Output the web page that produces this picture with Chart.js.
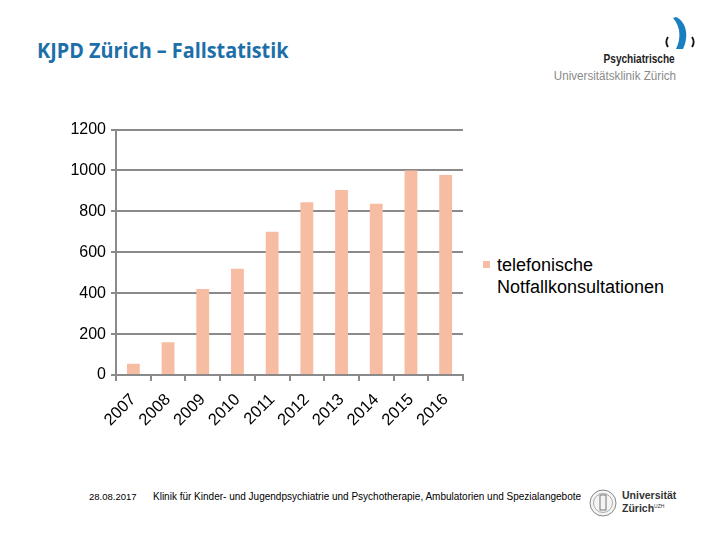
<!DOCTYPE html>
<html>
<head>
<meta charset="utf-8">
<script src="https://cdn.jsdelivr.net/npm/chart.js@4/dist/chart.umd.min.js"></script>
<style>
  html, body { margin:0; padding:0; background:#fff; }
  body { width:720px; height:540px; position:relative; overflow:hidden; font-family:"Liberation Sans", Arial, sans-serif; }
  .abs { position:absolute; white-space:nowrap; }
  #title { left:37px; top:34px; font-family:"Open Sans",sans-serif; font-weight:bold; font-size:22px; color:#1d6fa9; transform:scaleX(0.9); transform-origin:left top; }
  #psy { right:45px; top:52px; font-family:"Liberation Sans",sans-serif; font-weight:bold; font-size:12px; color:#222; transform:scaleX(0.84); transform-origin:right top; }
  #usz { right:44px; top:69px; font-family:"Liberation Sans",sans-serif; font-size:12px; color:#8a8a8a; transform:scaleX(0.97); transform-origin:right top; }
  #chartWrap { left:40px; top:115px; width:430px; height:335px; }
  #legSq { left:483px; top:261px; width:7px; height:7px; background:#f7bda3; }
  #legTxt { left:497px; top:254px; font-size:18px; line-height:22px; color:#000; }
  #date { left:89px; top:491px; font-size:9.5px; color:#000; }
  #foot { left:153px; top:491px; font-size:10px; color:#000; }
  #uzh1 { left:622px; top:489px; font-size:10.5px; font-weight:bold; color:#333; }
  #uzh2 { left:622px; top:502px; font-size:10.5px; font-weight:bold; color:#333; }
  #uzh2 sup { font-size:5px; font-weight:normal; }
</style>
</head>
<body>
<div id="title" class="abs">KJPD Zürich – Fallstatistik</div>
<svg class="abs" style="left:660px;top:15px" width="40" height="38">
  <path d="M16 2 C27 7 29 22 23 34 L16 34 C21 24 21 12 13 3 Z" fill="#1a7fc1"/>
  <path d="M8 22 C6 25 6 29 8 32" stroke="#111" stroke-width="1.8" fill="none"/>
  <path d="M32 22 C34 25 34 29 32 32" stroke="#111" stroke-width="1.8" fill="none"/>
</svg>
<div id="psy" class="abs">Psychiatrische</div>
<div id="usz" class="abs">Universitätsklinik Zürich</div>

<div id="chartWrap" class="abs"><canvas id="c"></canvas></div>
<div id="legSq" class="abs"></div>
<div id="legTxt" class="abs">telefonische<br>Notfallkonsultationen</div>

<div id="date" class="abs">28.08.2017</div>
<div id="foot" class="abs">Klinik für Kinder- und Jugendpsychiatrie und Psychotherapie, Ambulatorien und Spezialangebote</div>
<svg class="abs" style="left:589px;top:488px" width="28" height="30">
  <circle cx="14" cy="15" r="13" fill="#f4f4f4" stroke="#888" stroke-width="1"/>
  <circle cx="14" cy="15" r="9.5" fill="none" stroke="#999" stroke-width="0.8"/>
  <rect x="11" y="7" width="6" height="15" fill="none" stroke="#777" stroke-width="1"/>
</svg>
<div id="uzh1" class="abs">Universität</div>
<div id="uzh2" class="abs">Zürich<sup>UZH</sup></div>

<script>
const years = ["2007","2008","2009","2010","2011","2012","2013","2014","2015","2016"];
const telefonischeNotfallkonsultationen = [55, 160, 420, 520, 700, 845, 905, 838, 1000, 978];
const yTicks = [0, 200, 400, 600, 800, 1000, 1200];
const seriesName = "telefonische Notfallkonsultationen";

const gridColor = "#8a8a8a";
new Chart(document.getElementById("c"), {
  type: "bar",
  data: {
    labels: years,
    datasets: [{
      label: seriesName,
      data: telefonischeNotfallkonsultationen,
      backgroundColor: "#f7bda3",
      borderWidth: 0,
      categoryPercentage: 1,
      barPercentage: 0.37
    }]
  },
  options: {
    responsive: true,
    maintainAspectRatio: false,
    animation: false,
    layout: { padding: { top: 4, right: 7, left: 0, bottom: 0 } },
    plugins: { legend: { display: false }, tooltip: { enabled: false } },
    scales: {
      x: {
        offset: true,
        grid: { offset: true, drawOnChartArea: false, drawTicks: true, tickLength: 6, color: gridColor, lineWidth: 2 },
        border: { display: true, color: gridColor, width: 2 },
        ticks: { color: "#000", font: { family: "Liberation Sans, Arial", size: 16.5 }, minRotation: 45, maxRotation: 45, padding: 9, autoSkip: false },
        afterFit: s => { s.height = 75; }
      },
      y: {
        min: 0, max: 1200,
        afterBuildTicks: s => { s.ticks = yTicks.map(v => ({ value: v })); },
        grid: { color: gridColor, lineWidth: 2, drawTicks: true, tickLength: 5 },
        border: { display: true, color: gridColor, width: 2 },
        ticks: { color: "#000", font: { family: "Liberation Sans, Arial", size: 16 }, padding: 5, callback: v => String(v) },
        afterFit: s => { s.width = 76; }
      }
    }
  }
});
</script>
</body>
</html>
